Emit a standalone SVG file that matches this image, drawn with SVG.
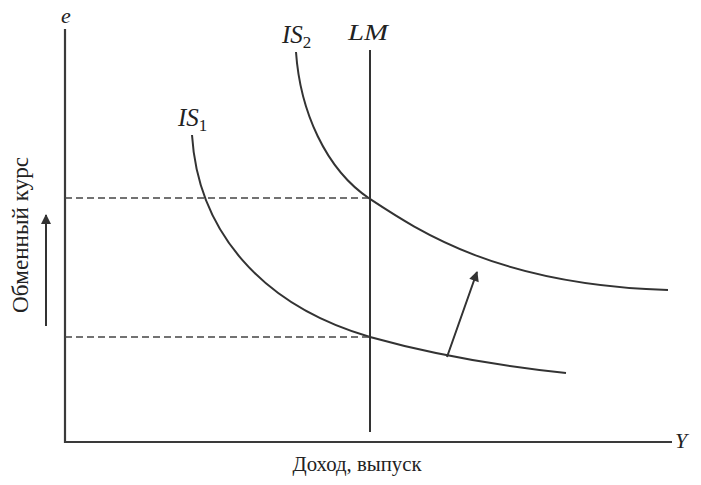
<svg xmlns="http://www.w3.org/2000/svg" width="701" height="485" viewBox="0 0 701 485">
<defs>
<style>
.ln{fill:none;stroke:#333;stroke-width:2}
.ax{fill:none;stroke:#3a3a3a;stroke-width:2.2}
.ds{fill:none;stroke:#444;stroke-width:1.6;stroke-dasharray:7 4}
.lb{font-family:"Liberation Serif",serif;font-style:italic;fill:#222}
.tx{font-family:"Liberation Serif",serif;fill:#222}
.sb{font-style:normal;font-size:17px}
</style>
<marker id="ah2" viewBox="0 0 10 10" refX="9" refY="5" markerWidth="13" markerHeight="10" orient="auto" markerUnits="userSpaceOnUse">
<path d="M0,0 L10,5 L0,10 z" fill="#333"/>
</marker>
</defs>
<rect width="701" height="485" fill="#fff"/>
<g id="axes">
<path class="ax" d="M65,29 L65,442 L672,442"/>
<text class="lb" x="66" y="23" font-size="22" text-anchor="middle">e</text>
<text class="lb" x="675" y="448" font-size="22">Y</text>
<text class="tx" x="357" y="471" font-size="20.5" text-anchor="middle" textLength="129" lengthAdjust="spacingAndGlyphs">Доход, выпуск</text>
<text class="tx" x="0" y="0" font-size="24" text-anchor="middle" textLength="156" lengthAdjust="spacingAndGlyphs" transform="translate(28,235) rotate(-90)">Обменный курс</text>
</g>
<g id="LM">
<path class="ln" d="M370,50 L370,432"/>
<text class="lb" x="348" y="40" font-size="24" textLength="40" lengthAdjust="spacingAndGlyphs">LM</text>
</g>
<g id="IS1">
<path class="ln" d="M192,135 C198,230 260,305 370,337 C420,351 490,365 566,373"/>
<text class="lb" x="178" y="126" font-size="25">IS<tspan class="sb" dy="5">1</tspan></text>
</g>
<g id="IS2">
<path class="ln" d="M296,52 C300,110 325,169 370,199 C420,232 500,285 668,290"/>
<text class="lb" x="282" y="43" font-size="25">IS<tspan class="sb" dy="5">2</tspan></text>
</g>
<g id="connectors">
<path class="ds" d="M65,198 L370,198"/>
<path class="ds" d="M65,337 L370,337"/>
<path class="ln" d="M447,357 L477,272" marker-end="url(#ah2)"/>
<path class="ln" d="M46,326 L46,215" marker-end="url(#ah2)"/>
</g>
</svg>
